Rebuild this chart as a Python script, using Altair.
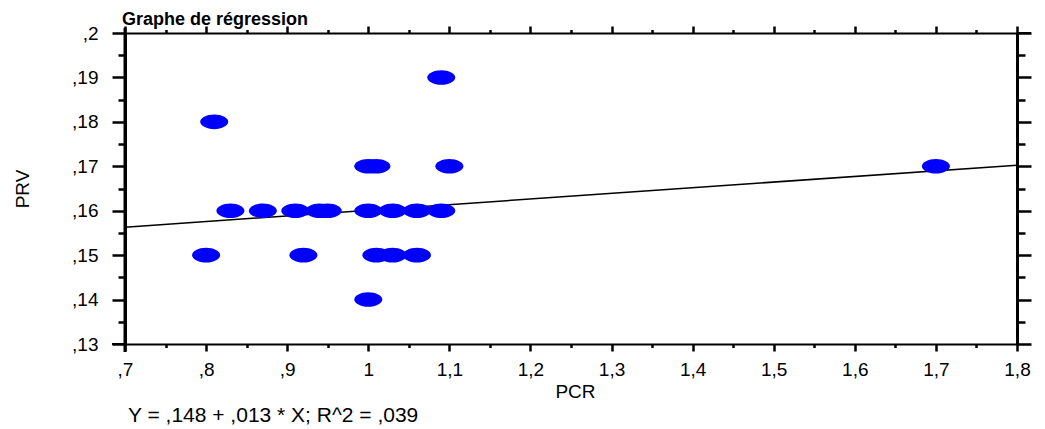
import altair as alt
import pandas as pd

# ---- data ----
pcr = [0.81, 0.80, 0.83, 0.87, 0.91, 0.94, 0.95, 0.92, 1.00, 1.01, 1.00,
       1.03, 1.06, 1.09, 1.00, 1.01, 1.03, 1.06, 1.09, 1.10, 1.70]
prv = [0.18, 0.15, 0.16, 0.16, 0.16, 0.16, 0.16, 0.15, 0.17, 0.17, 0.16,
       0.16, 0.16, 0.16, 0.14, 0.15, 0.15, 0.15, 0.19, 0.17, 0.17]

reg_intercept = 0.1474
reg_slope = 0.0127

x_domain = [0.7, 1.8]
y_domain = [0.13, 0.2]
x_major = [0.7, 0.8, 0.9, 1.0, 1.1, 1.2, 1.3, 1.4, 1.5, 1.6, 1.7, 1.8]
x_minor = [0.75, 0.85, 0.95, 1.05, 1.15, 1.25, 1.35, 1.45, 1.55, 1.65, 1.75]
y_major = [0.13, 0.14, 0.15, 0.16, 0.17, 0.18, 0.19, 0.2]
y_minor = [0.135, 0.145, 0.155, 0.165, 0.175, 0.185, 0.195]

title_text = "Graphe de régression"
x_title = "PCR"
y_title = "PRV"
footer_text = "Y = ,148 + ,013 * X; R^2 = ,039"

FONT = "Liberation Sans"

pts = pd.DataFrame({"PCR": pcr, "PRV": prv})
reg = pd.DataFrame({"PCR": x_domain,
                    "PRV": [reg_intercept + reg_slope * v for v in x_domain]})
foot = pd.DataFrame({"t": [footer_text]})
head = pd.DataFrame({"t": [title_text]})

x_vals = sorted(x_major + x_minor)
y_vals = sorted(y_major + y_minor)

x_minor_test = "round(datum.value*20) % 2 == 1"
y_minor_test = "round(datum.value*200) % 2 == 1"
x_label = ("round(datum.value*20) % 2 == 1 ? '' : "
           "replace(replace(format(datum.value, '.2~f'), '0.', ','), '.', ',')")
y_label = ("round(datum.value*200) % 2 == 1 ? '' : "
           "replace(replace(format(datum.value, '.3~f'), '0.', ','), '.', ',')")

xs = alt.Scale(domain=x_domain, nice=False, zero=False)
ys = alt.Scale(domain=y_domain, nice=False, zero=False)

common = dict(grid=False, domainColor="black", tickColor="black",
              labelFont=FONT, titleFont=FONT, labelColor="black",
              titleColor="black", labelOverlap=False)

x_bottom = alt.Axis(orient="bottom", values=x_vals, labelExpr=x_label,
                    tickSize=7, tickWidth=2.5, domainWidth=2,
                    tickDash={"condition": {"test": x_minor_test, "value": [3.5, 50]},
                              "value": [100, 0]},
                    labelFontSize=19, labelPadding=9, labelFlush=False,
                    title=x_title, titleFontSize=19, titleFontWeight="normal",
                    titleX=450, titleY=53, titleBaseline="alphabetic", **common)
y_left = alt.Axis(orient="left", values=y_vals, labelExpr=y_label,
                  tickSize=13, tickWidth=2.5, domainWidth=3,
                  tickDash={"condition": {"test": y_minor_test, "value": [7, 50]},
                            "value": [100, 0]},
                  labelFontSize=19, labelPadding=14,
                  title=y_title, titleFontSize=19, titleFontWeight="normal",
                  titleX=-103, titleY=155.5, titleAngle=270,
                  titleBaseline="middle", titleAlign="center", **common)
x_top = alt.Axis(orient="top", values=x_vals, labels=False,
                 tickSize=7, tickWidth=2.5, domainWidth=2,
                 tickDash={"condition": {"test": x_minor_test, "value": [3.5, 50]},
                           "value": [100, 0]},
                 title=None, **common)
y_right = alt.Axis(orient="right", values=y_vals, labels=False,
                   tickSize=14, tickWidth=2.5, domainWidth=3,
                   tickDash={"condition": {"test": y_minor_test, "value": [8, 50]},
                             "value": [100, 0]},
                   title=None, **common)

ellipse = ("M -1 0 C -1 -0.28 -0.55 -0.52 0 -0.52 C 0.55 -0.52 1 -0.28 1 0 "
           "C 1 0.28 0.55 0.52 0 0.52 C -0.55 0.52 -1 0.28 -1 0 Z")

points = alt.Chart(pts).mark_point(
    shape=ellipse, filled=True, size=784, color="#0000ff", opacity=1,
    strokeWidth=0
).encode(
    x=alt.X("PCR:Q", scale=xs, axis=x_bottom),
    y=alt.Y("PRV:Q", scale=ys, axis=y_left),
)

line = alt.Chart(reg).mark_line(color="black", strokeWidth=1.5).encode(
    x=alt.X("PCR:Q", scale=xs, axis=x_top),
    y=alt.Y("PRV:Q", scale=ys, axis=y_right),
)

header = alt.Chart(head).mark_text(
    align="left", baseline="alphabetic", font=FONT, fontSize=18,
    fontWeight="bold", color="black"
).encode(text="t:N", x=alt.value(-3), y=alt.value(-8.5))

footer = alt.Chart(foot).mark_text(
    align="left", baseline="alphabetic", font=FONT, fontSize=21, color="black"
).encode(text="t:N", x=alt.value(3), y=alt.value(389))

# small frame extensions seen in the reference
ext_bottom = alt.Chart(foot).mark_rule(color="black", strokeWidth=2).encode(
    x=alt.value(-13), x2=alt.value(0), y=alt.value(311))
ext_top = alt.Chart(foot).mark_rule(color="black", strokeWidth=2).encode(
    x=alt.value(892), x2=alt.value(906), y=alt.value(0))
ext_left = alt.Chart(foot).mark_rule(color="black", strokeWidth=3).encode(
    x=alt.value(0), y=alt.value(-5), y2=alt.value(319))

chart = alt.layer(line, points, header, footer, ext_bottom, ext_top, ext_left).resolve_axis(
    x="independent", y="independent"
).properties(
    width=892, height=311,
    autosize=alt.AutoSizeParams(type="none"),
    padding={"left": 117, "top": 25, "right": 20, "bottom": 84},
).configure_view(stroke=None).configure(background="white")

chart.save("out.html", embed_options={"renderer": "svg", "actions": False})
